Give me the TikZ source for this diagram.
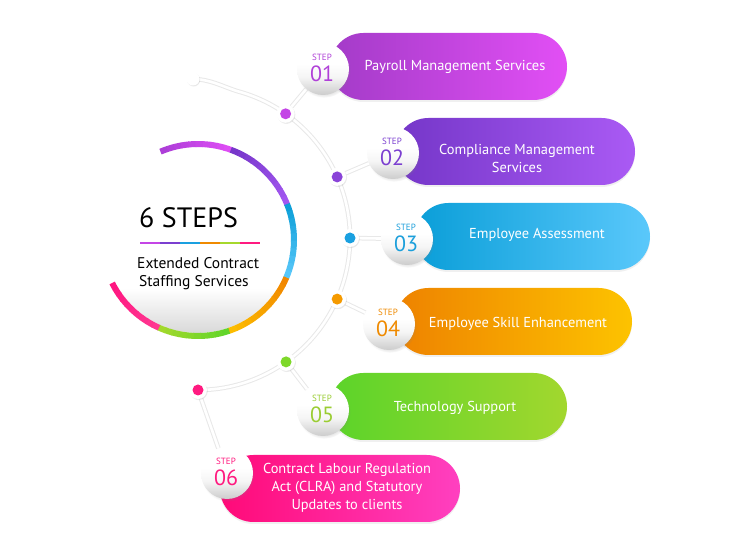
\documentclass[tikz,border=0pt]{standalone}
\usepackage{fontspec}
\setmainfont{PT Sans}
\usetikzlibrary{shapes.misc,shadows,backgrounds}

\definecolor{c1}{HTML}{B040D8}
\definecolor{c2}{HTML}{7B3FD0}
\definecolor{c3}{HTML}{1C9FDB}
\definecolor{c4}{HTML}{EF8A00}
\definecolor{c5}{HTML}{9ACD32}
\definecolor{c6}{HTML}{FF1A7F}
\definecolor{d1}{HTML}{C445E6}
\definecolor{d2}{HTML}{8A44D8}
\definecolor{d3}{HTML}{1AA0E0}
\definecolor{d4}{HTML}{F59A00}
\definecolor{d5}{HTML}{7ED82A}
\definecolor{d6}{HTML}{FF1A80}
\definecolor{r1a}{HTML}{AA3DD6}\definecolor{r1b}{HTML}{E04EF6}
\definecolor{r2a}{HTML}{7535C8}\definecolor{r2b}{HTML}{A458F2}
\definecolor{r3a}{HTML}{0A9DD6}\definecolor{r3b}{HTML}{5CC9FB}
\definecolor{r4a}{HTML}{F08400}\definecolor{r4b}{HTML}{FDBF00}
\definecolor{r5a}{HTML}{5ED52A}\definecolor{r5b}{HTML}{A6D82C}
\definecolor{r6a}{HTML}{FF3A92}\definecolor{r6b}{HTML}{FF1480}
\definecolor{p1a}{HTML}{A33BC8}\definecolor{p1b}{HTML}{E24FF5}
\definecolor{p2a}{HTML}{7436C8}\definecolor{p2b}{HTML}{AA5AF4}
\definecolor{p3a}{HTML}{0A9ED8}\definecolor{p3b}{HTML}{5AC8FB}
\definecolor{p4a}{HTML}{EE8200}\definecolor{p4b}{HTML}{FDC300}
\definecolor{p5a}{HTML}{5BD42A}\definecolor{p5b}{HTML}{A2D72E}
\definecolor{p6a}{HTML}{FF0A78}\definecolor{p6b}{HTML}{FF40C0}

\pgfdeclareverticalshading{discshade}{100bp}{color(0bp)=(black!15); color(25bp)=(black!15); color(37bp)=(white); color(100bp)=(white)}
\pgfdeclareverticalshading{stepshade}{100bp}{color(0bp)=(black!20); color(25bp)=(black!20); color(42bp)=(black!4); color(55bp)=(white); color(100bp)=(white)}

\begin{document}
\begin{tikzpicture}[x=1pt,y=1pt,
  stepc/.style={circle, minimum size=52pt, inner sep=0pt, shading=stepshade,
    circular drop shadow={opacity=0.22, shadow xshift=1pt, shadow yshift=-2pt, shadow scale=1.03}},
  pill/.style={rounded rectangle, minimum height=67pt, inner sep=0pt,
    drop shadow={opacity=0.12, shadow xshift=0pt, shadow yshift=-2pt}},
  pilltext/.style={text=white, font=\fontsize{14.4}{18}\selectfont, align=center, inner sep=0pt},
  steplbl/.style={inner sep=0pt, text=#1, font=\fontsize{9}{9}\selectfont},
  stepnum/.style={inner sep=0pt, text=#1, font=\fontsize{22}{22}\selectfont},
  dotw/.style={circle, fill=white, minimum size=18pt, inner sep=0pt,
    circular drop shadow={opacity=0.2, shadow xshift=0.5pt, shadow yshift=-0.8pt, shadow scale=1.05}},
  dotc/.style={circle, fill=#1, minimum size=11pt, inner sep=0pt},
  track/.style={line width=4.6pt, draw=black!9},
  trackw/.style={line width=2.6pt, draw=white},
]
\useasboundingbox (0,0) rectangle (750,541);
\coordinate (C) at (198,303);

% ---- main circle with coloured ring
\node[circle, minimum size=186pt, inner sep=0pt, shading=discshade] (M) at (198,301) {};
\foreach \a/\b/\ca/\cb in {113/70/r1a/r1b, 70/22/r2a/r2b, 22/-23/r3a/r3b, -23/-71/r4a/r4b, -71/-114/r5a/r5b, -114/-153/r6a/r6b}{
  \foreach \i in {0,...,9}{
    \pgfmathsetmacro\sa{\a+(\b-\a)*\i/10}
    \pgfmathsetmacro\ea{\a+(\b-\a)*(\i+1)/10-0.4}
    \pgfmathtruncatemacro\p{\i*10+5}
    \draw[line width=6pt, draw={\cb!\p!\ca}] ([shift={(\sa:96)}]M.center) arc[start angle=\sa, end angle=\ea, radius=96];
  }
}
\node[anchor=base west, inner sep=0pt, font=\fontsize{28}{30}\selectfont] (title) at (139,313) {6 STEPS};
\foreach \k/\col in {0/d1,1/c2,2/d3,3/c4,4/r5b,5/d6}{
  \draw[line width=2.6pt, \col] (140+\k*20,298) -- (160.3+\k*20,298);
}
\node[anchor=base west, inner sep=0pt, font=\fontsize{15.5}{18}\selectfont] (sub1) at (137,272) {Extended Contract};
\node[anchor=base west, inner sep=0pt, font=\fontsize{15.5}{18}\selectfont] (sub2) at (139,254) {Staffing Services};

% ---- pills
\node[pill, minimum width=237pt, left color=p1a, right color=p1b] (p1) at (448.5,474.5) {};
\node[pill, minimum width=240pt, left color=p2a, right color=p2b] (p2) at (515,389.5) {};
\node[pill, minimum width=235pt, left color=p3a, right color=p3b] (p3) at (532.5,304.5) {};
\node[pill, minimum width=237pt, left color=p4a, right color=p4b] (p4) at (513.5,219.5) {};
\node[pill, minimum width=237pt, left color=p5a, right color=p5b] (p5) at (448.5,134.5) {};
\node[pill, minimum width=240pt, left color=p6a, right color=p6b] (p6) at (340,52.5) {};

\node[pilltext] (t1) at (455,474) {Payroll Management Services};
\node[pilltext] (t2) at (517,383) {Compliance Management\\Services};
\node[pilltext] (t3) at (537,306) {Employee Assessment};
\node[pilltext] (t4) at (518,217) {Employee Skill Enhancement};
\node[pilltext] (t5) at (455,133) {Technology Support};
\node[pilltext] (t6) at (347,53) {Contract Labour Regulation\\Act (CLRA) and Statutory\\Updates to clients};

% ---- step circles
\foreach \n/\x/\y/\col in {1/323/472/c1, 2/393/388/c2, 3/407/302/c3, 4/389/217/c4, 5/323/131/c5, 6/227/68/c6}{
  \node[stepc] (s\n) at (\x,\y) {};
  \node[steplbl=\col] (sl\n) at (\x-1,\y+12) {STEP};
  \node[stepnum=\col] (sn\n) at (\x-1,\y-5) {0\n};
}

% ---- dots on the track
\node[dotw, minimum size=13pt] (tail) at (193,462) {};
\foreach \n/\ang/\col in {1/54.8/d1, 2/23.7/d2, 3/0/d3, 4/-23.7/d4, 5/-54.6/d5, 6/-90/d6}{
  \node[dotw] (d\n) at ([shift={(\ang:152)}]C) {};
  \node[dotc=\col] (dc\n) at (d\n) {};
}

% ---- track and connectors (behind)
\begin{scope}[on background layer]
  \foreach \s in {track, trackw}{
    \draw[\s] (tail.center) to[out=-2, in=162] ([shift={(75:152)}]C) arc[start angle=75, end angle=-90, radius=152];
  }
  \foreach \n in {1,...,6}{
    \draw[track] (d\n) -- (s\n);
    \draw[trackw] (d\n) -- (s\n);
  }
\end{scope}
\end{tikzpicture}
\end{document}
